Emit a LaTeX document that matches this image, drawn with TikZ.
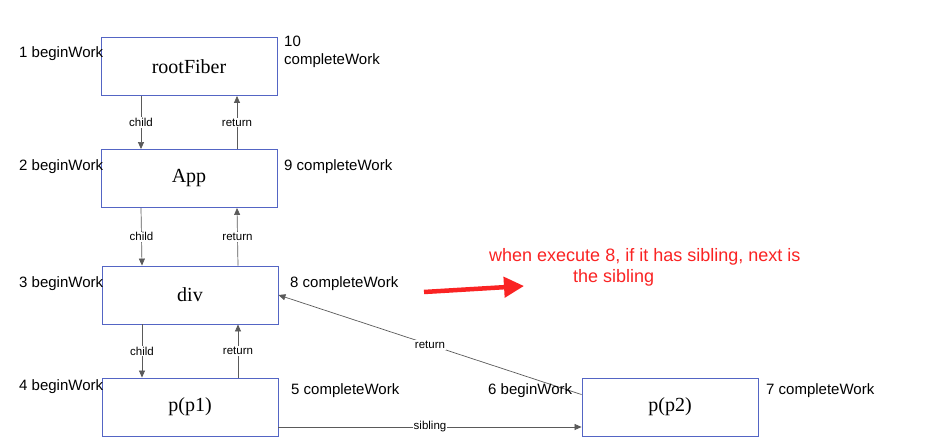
\documentclass[tikz,border=0pt]{standalone}
\usepackage{fontspec}
\setmainfont{Liberation Sans}
\newfontfamily\boxfont{Liberation Serif}
\usetikzlibrary{arrows.meta}
\definecolor{boxblue}{RGB}{84,101,196}
\definecolor{linegray}{RGB}{90,90,90}
\definecolor{notered}{RGB}{250,35,35}
\tikzset{
  fiber/.style={draw=boxblue, line width=0.9pt, minimum width=176pt, minimum height=58pt,
    inner sep=0pt, font=\boxfont\fontsize{20}{24}\selectfont},
  link/.style={draw=linegray, line width=0.7pt, -{Triangle[length=7pt,width=6pt]}},
  lbl/.style={fill=white, inner sep=1pt, font=\fontsize{11.5}{13}\selectfont},
  work/.style={anchor=west, inner sep=0pt, font=\fontsize{15}{17.5}\selectfont},
  note/.style={anchor=west, inner sep=0pt, text=notered, font=\fontsize{18}{21}\selectfont}
}
\begin{document}
\begin{tikzpicture}[x=1pt, y=-1pt]
\useasboundingbox[fill=white] (0,0) rectangle (927,446);

% fibers
\node[fiber] (root) at (189,66.5) {rootFiber};
\node[fiber] (app) at (189,178.5) {App};
\node[fiber] (div) at (190,295) {div};
\node[fiber] (pa) at (190,407) {p(p1)};
\node[fiber] (pb) at (670,407) {p(p2)};

% child / return
\draw[link] ([xshift=-48pt]root.south) -- node[lbl] {child} ([xshift=-48pt]app.north);
\draw[link] ([xshift=48pt]app.north) -- node[lbl] {return} ([xshift=48pt]root.south);
\draw[link] ([xshift=-48pt]app.south) -- node[lbl] {child} ([xshift=-48pt]div.north);
\draw[link] ([xshift=48pt]div.north) -- node[lbl] {return} ([xshift=48pt]app.south);
\draw[link] ([xshift=-48pt]div.south) -- node[lbl] {child} ([xshift=-48pt]pa.north);
\draw[link] ([xshift=48pt]pa.north) -- node[lbl] {return} ([xshift=48pt]div.south);
\draw[link] ([yshift=-20pt]pa.east) -- node[lbl] {sibling} ([yshift=-20pt]pb.west);
\draw[link] ([yshift=-17pt]pb.north west) -- node[lbl] {return} (div.east);

% order labels
\node[work] (w1) at (19,54) {1 beginWork};
\node[work] (w2) at (19,167) {2 beginWork};
\node[work] (w3) at (19,284) {3 beginWork};
\node[work] (w4) at (19,387) {4 beginWork};
\node[work] (w6) at (488,391) {6 beginWork};
\node[work, anchor=north west, align=left] (w10) at (284,36) {10\\completeWork};
\node[work] (w9) at (284,167) {9 completeWork};
\node[work] (w8) at (290,284) {8 completeWork};
\node[work] (w5) at (291,391) {5 completeWork};
\node[work] (w7) at (766,391) {7 completeWork};

% note
\node[note] (n1) at (489,257) {when execute 8, if it has sibling, next is};
\node[note] (n2) at (573,278) {the sibling};
\coordinate (r1) at (424,292);
\coordinate (r2) at (524,286);
\draw[notered, line width=4.5pt, -{Triangle[length=20pt,width=20pt]}] (r1) -- (r2);
\end{tikzpicture}
\end{document}
